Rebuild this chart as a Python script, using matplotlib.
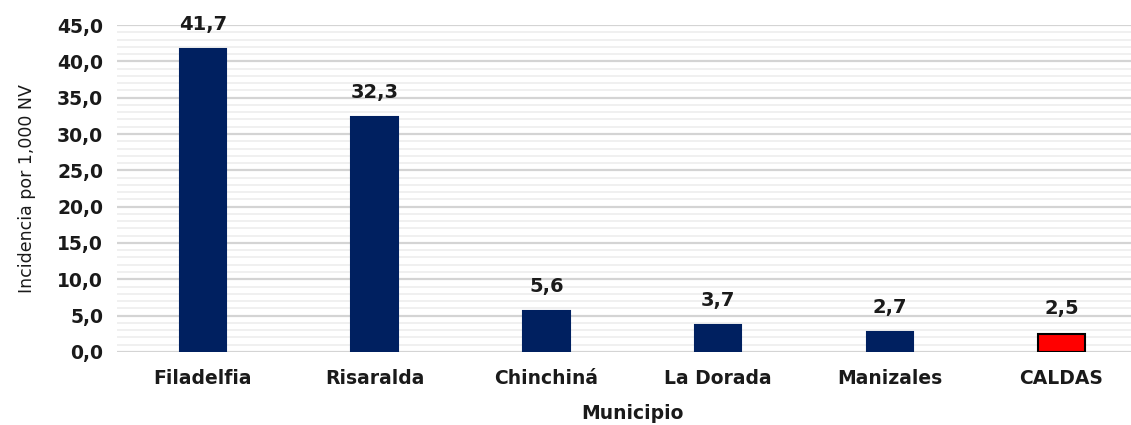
import matplotlib.pyplot as plt
from matplotlib.ticker import MultipleLocator, FuncFormatter

municipios = ['Filadelfia', 'Risaralda', 'Chinchiná', 'La Dorada', 'Manizales', 'CALDAS']
incidencia = [41.7, 32.3, 5.6, 3.7, 2.7, 2.5]
colores = ['#002060'] * 5 + ['#FF0000']
bordes = ['#002060'] * 5 + ['black']

fig = plt.figure(figsize=(11.31, 4.25), dpi=100)
ax = fig.add_axes([0.1035, 0.172, 0.911, 0.769])

x = range(len(municipios))
ax.bar(x, incidencia, width=0.27, color=colores, edgecolor=bordes, linewidth=1.5, zorder=3)

for i, v in enumerate(incidencia):
    ax.text(i, v + 2.1, f'{v:.1f}'.replace('.', ','), ha='center', va='bottom',
            fontsize=14, fontweight='bold', color='#1a1a1a')

ax.set_xlim(-0.5, len(municipios) - 0.5)
ax.set_ylim(0, 45)
ax.yaxis.set_major_locator(MultipleLocator(5))
ax.yaxis.set_minor_locator(MultipleLocator(1))
ax.yaxis.set_major_formatter(FuncFormatter(lambda v, p: f'{v:.1f}'.replace('.', ',')))
ax.grid(axis='y', which='major', color='#D4D4D4', linewidth=1.6, zorder=0)
ax.grid(axis='y', which='minor', color='#EDEDED', linewidth=1.2, zorder=0)

for s in ax.spines.values():
    s.set_visible(False)
ax.tick_params(axis='both', which='both', length=0)
ax.tick_params(axis='y', labelsize=13.5, pad=10)
ax.tick_params(axis='x', labelsize=13.5, pad=12)
ax.set_xticks(list(x))
ax.set_xticklabels(municipios)
for lab in ax.get_xticklabels() + ax.get_yticklabels():
    lab.set_fontweight('bold')
    lab.set_color('#1a1a1a')

ax.set_ylabel('Incidencia por 1,000 NV', fontsize=12.5, color='#1a1a1a', labelpad=15)
ax.set_xlabel('Municipio', fontsize=13.5, fontweight='bold', color='#1a1a1a', labelpad=12)

fig.savefig('out.png', dpi=100)
